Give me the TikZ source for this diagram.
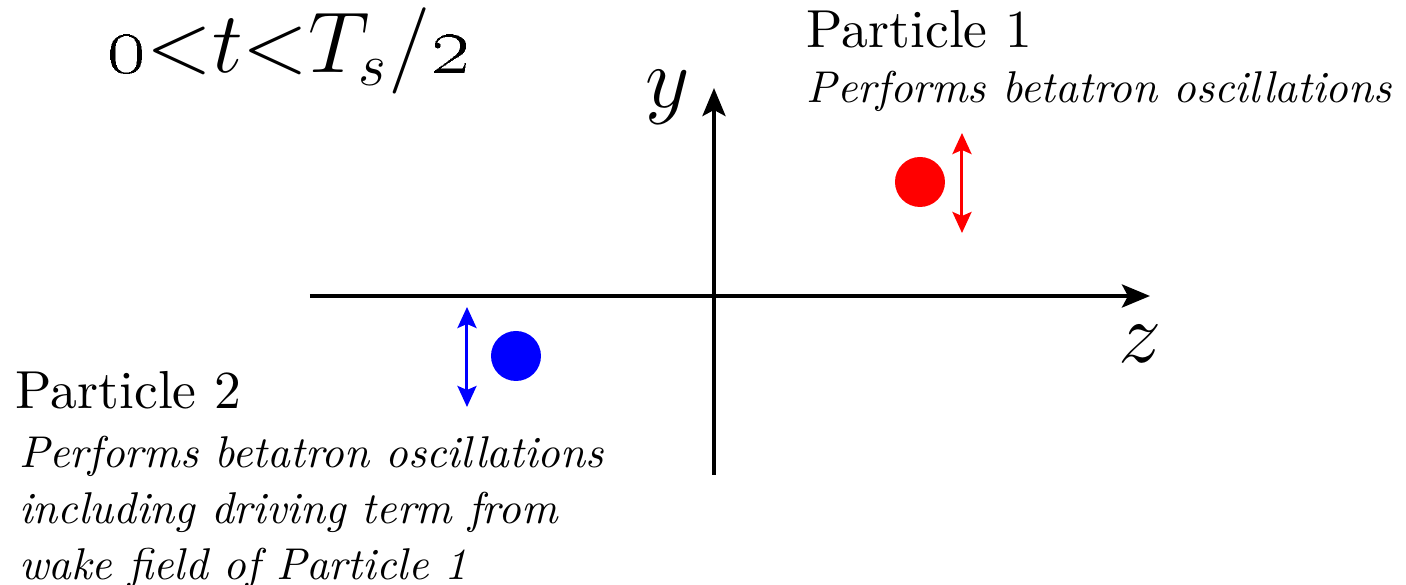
\documentclass[tikz,border=0pt]{standalone}
\usetikzlibrary{arrows.meta}
\newcommand{\descscale}[1]{\scalebox{0.89}{\fontsize{10}{12}\selectfont\itshape #1}}
\begin{document}
\begin{tikzpicture}[x=0.2pt,y=-0.2pt,
  axis/.style={line width=0.8pt,-{Stealth[length=5.6pt,width=4.6pt,inset=1.2pt]}},
  osc/.style={line width=0.6pt,{Stealth[length=4.2pt,width=3.8pt,inset=0.8pt]}-{Stealth[length=4.2pt,width=3.8pt,inset=0.8pt]}},
  dot/.style={circle,inner sep=0pt,minimum size=10pt},
  head/.style={anchor=base west,inner sep=0pt,font=\fontsize{10.7}{12}\selectfont},
  desc/.style={anchor=base west,inner sep=0pt},
  axlabel/.style={anchor=base,inner sep=0pt,font=\fontsize{16}{18}\selectfont}]
\useasboundingbox (0,0) rectangle (1406,585);
\coordinate (zs) at (310,296);
\coordinate (ze) at (1150,296);
\coordinate (ys) at (714,475);
\coordinate (ye) at (714,88);
\draw[axis] (zs) -- (ze);
\draw[axis] (ys) -- (ye);
\node[axlabel] (ylab) at (668,108) {$y$};
\node[axlabel] (zlab) at (1140,363) {$z$};
\node[anchor=base west,inner sep=0pt,font=\fontsize{16.5}{20}\selectfont] (title) at (105,73) {\oldstylenums{0}${<}t{<}T_s/$\oldstylenums{2}};
\node[dot,fill=red] (p1) at (920,182) {};
\node[dot,fill=blue] (p2) at (516,356) {};
\coordinate (r1) at (962,133);
\coordinate (r2) at (962,233);
\coordinate (b1) at (467,307);
\coordinate (b2) at (467,407);
\draw[osc,red] (r1) -- (r2);
\draw[osc,blue] (b1) -- (b2);
\node[head] (h1) at (806,48) {Particle 1};
\node[desc] (d1) at (806,103) {\descscale{Performs betatron oscillations}};
\node[head] (h2) at (15,409) {Particle 2};
\node[desc] (d2a) at (18,468) {\descscale{Performs betatron oscillations}};
\node[desc] (d2b) at (18,524) {\descscale{including driving term from}};
\node[desc] (d2c) at (18,580) {\descscale{wake field of Particle 1}};
\end{tikzpicture}
\end{document}
